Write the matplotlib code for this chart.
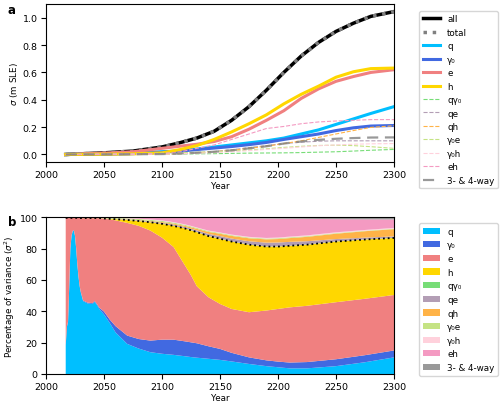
import numpy as np
import matplotlib
matplotlib.use('Agg')
import matplotlib.pyplot as plt
from matplotlib.patches import Patch

# ---- panel a: standard deviation (m SLE) ----
years_a = [2017, 2030, 2050, 2075, 2100, 2115, 2130, 2145, 2160, 2175, 2190, 2205, 2220, 2235, 2250, 2265, 2280, 2300]

sd_all = [0.0, 0.005, 0.012, 0.025, 0.055, 0.085, 0.12, 0.17, 0.25, 0.35, 0.47, 0.60, 0.72, 0.82, 0.90, 0.96, 1.01, 1.045]
sd_q = [0.0, 0.004, 0.007, 0.011, 0.02, 0.026, 0.04, 0.055, 0.07, 0.085, 0.10, 0.12, 0.15, 0.18, 0.22, 0.26, 0.30, 0.35]
sd_g0 = [0.0, 0.0003, 0.002, 0.006, 0.016, 0.025, 0.036, 0.047, 0.058, 0.072, 0.088, 0.11, 0.13, 0.15, 0.175, 0.195, 0.208, 0.212]
sd_e = [0.0, 0.005, 0.01, 0.02, 0.045, 0.06, 0.075, 0.095, 0.13, 0.185, 0.25, 0.32, 0.41, 0.48, 0.535, 0.57, 0.60, 0.62]
sd_h = [0.0, 0.001, 0.002, 0.005, 0.012, 0.035, 0.065, 0.11, 0.165, 0.225, 0.29, 0.37, 0.44, 0.50, 0.565, 0.605, 0.628, 0.632]
sd_qg0 = [0.0, 0.0002, 0.0005, 0.001, 0.002, 0.003, 0.005, 0.006, 0.008, 0.01, 0.011, 0.012, 0.014, 0.017, 0.02, 0.025, 0.031, 0.037]
sd_qe = [0.0, 0.0005, 0.001, 0.003, 0.004, 0.008, 0.013, 0.022, 0.035, 0.05, 0.065, 0.08, 0.09, 0.097, 0.10, 0.10, 0.10, 0.10]
sd_qh = [0.0, 0.0003, 0.0005, 0.0015, 0.003, 0.006, 0.012, 0.02, 0.03, 0.045, 0.06, 0.08, 0.10, 0.125, 0.15, 0.175, 0.198, 0.21]
sd_g0e = [0.0, 0.002, 0.004, 0.006, 0.01, 0.013, 0.016, 0.02, 0.026, 0.033, 0.042, 0.052, 0.06, 0.066, 0.068, 0.065, 0.057, 0.045]
sd_g0h = [0.0, 0.0002, 0.0005, 0.001, 0.003, 0.005, 0.009, 0.013, 0.02, 0.028, 0.037, 0.045, 0.055, 0.064, 0.07, 0.075, 0.078, 0.08]
sd_eh = [0.0, 0.0002, 0.001, 0.003, 0.007, 0.018, 0.045, 0.07, 0.11, 0.15, 0.19, 0.205, 0.225, 0.238, 0.245, 0.25, 0.255, 0.255]
sd_rest = [0.0, 0.0005, 0.001, 0.002, 0.003, 0.007, 0.013, 0.02, 0.03, 0.045, 0.06, 0.08, 0.095, 0.107, 0.115, 0.12, 0.124, 0.125]

# ---- panel b: percentage of variance ----
years_b = [2017, 2018, 2019, 2020, 2021, 2022, 2023, 2024, 2025, 2026, 2027, 2028, 2029,
           2030, 2032, 2036, 2040, 2042, 2044, 2046,
           2050, 2055, 2060, 2070, 2080, 2090, 2100, 2110, 2120, 2125, 2130, 2140, 2150,
           2160, 2175, 2190, 2200, 2210, 2225, 2250, 2275, 2300]

pv_q = [18, 30, 33, 55, 80, 88, 91, 91.5, 88, 80, 70, 62, 56,
        52, 46.5, 45, 44.7, 46, 44, 41.5,
        38, 32.5, 26.5, 19.2, 16.2, 13.9, 12.9, 12.2, 11.3, 10.8, 10.4, 9.7, 9.0,
        8.0, 6.4, 5.0, 4.3, 3.6, 3.6, 5.0, 7.5, 10.6]
pv_g0 = [0.3] * 13 + [0.4, 0.4, 0.5, 0.5, 0.5, 0.6, 0.8] + \
        [1.8, 2.2, 4.0, 5.3, 6.1, 7.4, 9.0, 9.7, 9.5, 9.4, 9.2, 8.0, 7.0,
         5.5, 4.2, 3.7, 3.6, 3.7, 4.0, 4.4, 4.5, 4.4]
pv_e = [81.25, 69.25, 66.25, 44.25, 19.25, 11.25, 8.25, 7.75, 11.25, 19.25, 29.25, 37.25, 43.25,
        47.05, 52.55, 53.95, 54.25, 52.95, 54.85, 57.15,
        59.3, 64.0, 67.5, 71.9, 72.2, 70.2, 65.1, 59.1, 48.2, 42.8, 36.4, 31.3, 28.7,
        28.0, 28.8, 31.8, 33.6, 35.2, 35.9, 36.4, 36.0, 35.4]
pv_h = [0.05] * 20 + \
       [0.1, 0.3, 0.8, 1.9, 3.1, 5.3, 8.8, 13.5, 23.8, 28.7, 34.5, 39.0, 41.6,
        43.0, 43.1, 40.8, 39.8, 39.3, 39.0, 38.7, 37.8, 36.4]
pv_qg0 = [0] * 20 + [0, 0.02, 0.03, 0.05, 0.05, 0.05, 0.1, 0.1, 0.1, 0.1, 0.1, 0.1, 0.1,
                     0.1, 0.1, 0.1, 0.1, 0.1, 0.1, 0.1, 0.1, 0.1]
pv_qe = [0.05] * 20 + [0.1, 0.15, 0.2, 0.25, 0.35, 0.45, 0.55, 0.7, 0.85, 0.95, 1.05, 1.3, 1.6,
                       1.8, 2.1, 2.4, 2.5, 2.4, 2.1, 1.5, 1.1, 0.9]
pv_qh = [0] * 13 + [0.05] * 7 + [0.05, 0.05, 0.1, 0.15, 0.25, 0.35, 0.5, 0.6, 0.75, 0.85, 0.95, 1.25, 1.5,
                                 1.7, 1.9, 2.1, 2.2, 2.4, 2.8, 3.4, 4.1, 4.6]
pv_g0e = [0.15] * 13 + [0.2] * 7 + [0.3, 0.35, 0.4, 0.55, 0.65, 0.7, 0.75, 0.7, 0.65, 0.6, 0.6, 0.55, 0.5,
                                    0.5, 0.5, 0.5, 0.5, 0.5, 0.45, 0.4, 0.3, 0.3]
pv_g0h = [0] * 13 + [0.05] * 7 + [0.05, 0.05, 0.1, 0.15, 0.2, 0.25, 0.3, 0.3, 0.3, 0.3, 0.3, 0.3, 0.3,
                                  0.35, 0.4, 0.4, 0.45, 0.45, 0.5, 0.5, 0.5, 0.5]
pv_eh = [0.15] * 20 + [0.25, 0.3, 0.3, 0.45, 0.75, 1.2, 1.75, 2.8, 4.25, 5.2, 6.15, 8.1, 9.2,
                       10.45, 11.8, 12.4, 12.1, 11.45, 10.55, 8.4, 6.8, 5.4]
pv_rest = [0.1] * 20 + [0.1, 0.1, 0.1, 0.1, 0.15, 0.2, 0.25, 0.3, 0.3, 0.3, 0.35, 0.4, 0.5,
                        0.6, 0.7, 0.8, 0.85, 0.9, 1.0, 1.2, 1.3, 1.4]

labels = ['q', 'γ₀', 'e', 'h', 'qγ₀', 'qe', 'qh', 'γ₀e', 'γ₀h', 'eh', '3- & 4-way']
colors = ['#00bfff', '#4169e1', '#f08080', '#ffd700', '#77dd77', '#b39eb5',
          '#ffb347', '#c5e384', '#ffd1dc', '#f49ac2', '#999999']

plt.rcParams['font.size'] = 6.3
plt.rcParams['xtick.labelsize'] = 6.8
plt.rcParams['ytick.labelsize'] = 6.8
plt.rcParams['axes.labelsize'] = 6.3
plt.rcParams['xtick.major.pad'] = 2.5
plt.rcParams['ytick.major.pad'] = 2.5

fig = plt.figure(figsize=(5.0, 4.06), dpi=100)
ax1 = fig.add_axes([0.092, 0.5985, 0.696, 0.389])
ax2 = fig.add_axes([0.092, 0.0764, 0.696, 0.386])

# panel a
ax1.plot(years_a, sd_all, color='black', lw=2.5, label='all')
ax1.plot(years_a, sd_all, color='grey', lw=2.5, ls=':', label='total')
main_sd = [sd_q, sd_g0, sd_e, sd_h]
for i in range(4):
    ax1.plot(years_a, main_sd[i], color=colors[i], lw=2.2, label=labels[i])
inter_sd = [sd_qg0, sd_qe, sd_qh, sd_g0e, sd_g0h, sd_eh]
for i in range(6):
    ax1.plot(years_a, inter_sd[i], color=colors[i + 4], lw=0.8, ls='--', label=labels[i + 4])
ax1.plot(years_a, sd_rest, color='grey', lw=1.6, ls=(0, (5, 3)), alpha=0.8, label=labels[10])

ax1.set_xlim(2000, 2300)
ax1.set_ylim(-0.055, 1.1)
ax1.set_yticks([0.0, 0.2, 0.4, 0.6, 0.8, 1.0])
ax1.set_xlabel('Year', labelpad=1.5)
ax1.set_ylabel(r'$\sigma$ (m SLE)', labelpad=2)
ax1.legend(loc='upper left', bbox_to_anchor=(1.06, 0.985), fontsize=6.3, labelspacing=0.51,
           handlelength=2.0, borderpad=0.4)
fig.text(0.016, 0.975, 'a', fontsize=8.5, fontweight='bold', va='center')

# panel b
stack = [pv_q, pv_g0, pv_e, pv_h, pv_qg0, pv_qe, pv_qh, pv_g0e, pv_g0h, pv_eh, pv_rest]
ax2.stackplot(years_b, stack, colors=colors, labels=labels)
first_order = np.array(pv_q) + np.array(pv_g0) + np.array(pv_e) + np.array(pv_h)
ax2.plot(years_b, first_order, color='black', lw=1.3, ls=':')
ax2.set_xlim(2000, 2300)
ax2.set_ylim(0, 100)
ax2.set_xlabel('Year', labelpad=1.5)
ax2.set_ylabel(r'Percentage of variance ($\sigma^2$)', labelpad=2)
handles = [Patch(facecolor=c, label=l) for c, l in zip(colors, labels)]
ax2.legend(handles=handles, loc='upper left', bbox_to_anchor=(1.06, 0.99), fontsize=6.3,
           labelspacing=0.53, handlelength=2.0, borderpad=0.4)
fig.text(0.016, 0.453, 'b', fontsize=8.5, fontweight='bold', va='center')

plt.savefig('out.png', dpi=100)
